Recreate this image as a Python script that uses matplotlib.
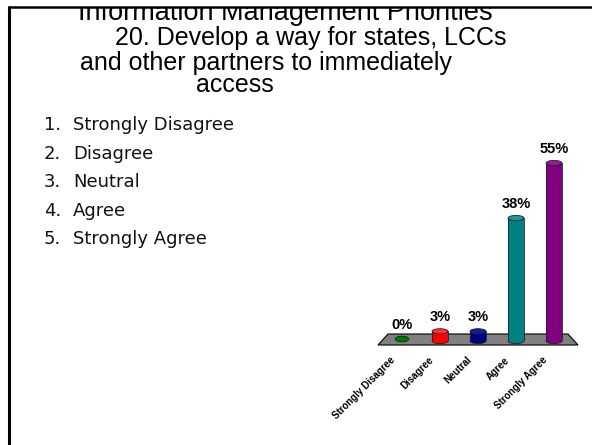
import numpy as np
import matplotlib.pyplot as plt
from matplotlib.patches import Ellipse, Polygon, Rectangle

# survey responses
categories = ['Strongly Disagree', 'Disagree', 'Neutral', 'Agree', 'Strongly Agree']
percents = [0, 3, 3, 38, 55]
colors = ['#007a00', '#ff0000', '#000080', '#008080', '#800080']
tops = ['#119911', '#ff3333', '#1a1aa0', '#1a9a9a', '#9a1a9a']

title_lines = ['Information Management Priorities',
               '20. Develop a way for states, LCCs',
               'and other partners to immediately',
               'access']

W, H = 592, 445
fig = plt.figure(figsize=(W / 100, H / 100), dpi=100)
fig.patch.set_facecolor('white')

# overlay in pixel coordinates for slide text and frame
bg = fig.add_axes([0, 0, 1, 1])
bg.set_xlim(0, W)
bg.set_ylim(H, 0)
bg.axis('off')

title_x = [285, 311, 266, 235]
title_y = [20, 45, 70, 92]
title_fs = [19.5, 18, 18, 18]
for txt, tx, ty, fs in zip(title_lines, title_x, title_y, title_fs):
    bg.text(tx, ty, txt, ha='center', va='baseline', fontsize=fs,
            family='Liberation Sans', color='black')

# white strip above the frame clips the first title line
bg.add_patch(Rectangle((0, 0), W, 6.5, facecolor='white', edgecolor='none', zorder=5))
bg.plot([8, W], [7, 7], color='black', lw=1.8, zorder=6, solid_capstyle='butt')
bg.plot([9, 9], [6, H], color='black', lw=2.2, zorder=6, solid_capstyle='butt')

# numbered list
for i, c in enumerate(categories):
    yb = 130.5 + i * 28.4
    bg.text(44, yb, f'{i + 1}.', ha='left', va='baseline', fontsize=13,
            family='DejaVu Sans', color='#111111')
    bg.text(73, yb, c, ha='left', va='baseline', fontsize=13,
            family='DejaVu Sans', color='#111111')

# chart axes: x units = categories (38 px each), y = percent
px_per_unit = 38.0
ylim_top = 60
py_per_unit = 178.0 / 55
left_px = 402 - 0.5 * px_per_unit
base_px = 341
ax = fig.add_axes([left_px / W, (H - base_px) / H,
                   5 * px_per_unit / W, ylim_top * py_per_unit / H])
ax.set_xlim(-0.5, 4.5)
ax.set_ylim(0, ylim_top)
ax.axis('off')

# floor (pixel layout converted to data units)
def to_data(px, py):
    return ((px - left_px) / px_per_unit - 0.5, (base_px - py) / py_per_unit)

floor = [to_data(378, 345), to_data(388, 334), to_data(568, 334), to_data(578, 345)]
ax.add_patch(Polygon(floor, closed=True, facecolor='#808080', edgecolor='black',
                     lw=0.8, clip_on=False, zorder=1))

x = np.arange(len(categories))
bw = 0.42
eh = 1.6
for xi, v, col, tc in zip(x, percents, colors, tops):
    if v == 0:
        ax.add_patch(Ellipse((xi, 0.6), 0.36, eh * 1.1, facecolor=col,
                             edgecolor='#003300', lw=0.6, clip_on=False, zorder=3))
        label_y = 0.6
    else:
        ax.add_patch(Ellipse((xi, 0.0), bw, eh, facecolor=col,
                             edgecolor='#222222', lw=0.6, clip_on=False, zorder=2))
        ax.bar(xi, v, width=bw, bottom=0, color=col, edgecolor='none', zorder=3)
        ax.plot([xi - bw / 2, xi - bw / 2], [0, v], color='#222222', lw=0.6, zorder=4)
        ax.plot([xi + bw / 2, xi + bw / 2], [0, v], color='#222222', lw=0.6, zorder=4)
        ax.add_patch(Ellipse((xi, v), bw, eh, facecolor=tc,
                             edgecolor='#222222', lw=0.6, clip_on=False, zorder=5))
        label_y = v
    ax.annotate(f'{v}%', xy=(xi, label_y), xytext=(0, 5), textcoords='offset points',
                ha='center', va='bottom', fontsize=10.5, fontweight='bold',
                family='Liberation Sans', annotation_clip=False)
    ax.annotate(categories[xi], xy=(xi, 0), xytext=(-6, -12.5), textcoords='offset points',
                ha='right', va='center', rotation=45, rotation_mode='anchor',
                fontsize=7, fontweight='bold', family='Liberation Sans',
                annotation_clip=False)

fig.savefig('out.png', dpi=100)
